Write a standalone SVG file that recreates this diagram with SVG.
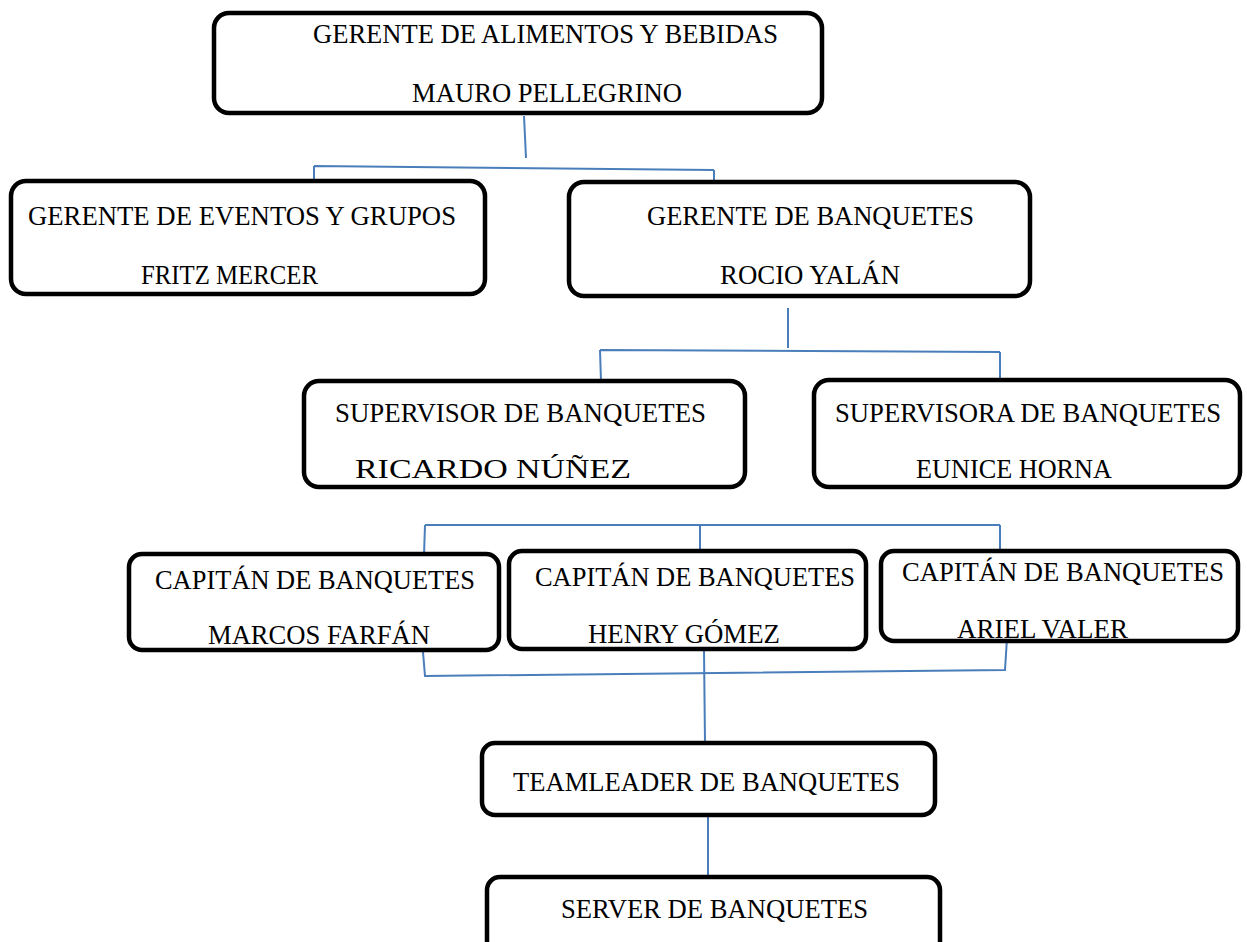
<svg xmlns="http://www.w3.org/2000/svg" width="1247" height="942" viewBox="0 0 1247 942">
<style>
.box{fill:#fff;stroke:#000;stroke-width:4.5}
.t{font-family:"Liberation Serif","Times New Roman",serif;font-size:27px;fill:#000}
.s{font-size:28px}
.c{fill:none;stroke:#4a7ebb;stroke-width:2}
</style>
<rect width="1247" height="942" fill="#fff"/>
<g id="connectors">
<path class="c" d="M524 116 L526 158"/>
<path class="c" d="M314 166 L714 170 M314 166 L314 181 M714 170 L714 184"/>
<path class="c" d="M788 308 L788 348"/>
<path class="c" d="M600 350 L1000 352 M600 350 L601 381 M1000 352 L1000 381"/>
<path class="c" d="M425 525 L1000 525 M425 525 L424 555 M700 525 L700 551 M1000 525 L1000 551"/>
<path class="c" d="M423 652 L425 676 L1005 670 L1007 638"/>
<path class="c" d="M704 650 L705 743"/>
<path class="c" d="M708 816 L708 877"/>
</g>
<g id="n1">
<rect class="box" x="214" y="13" width="608" height="100" rx="15"/>
<text class="t" x="313" y="43" textLength="465" lengthAdjust="spacingAndGlyphs">GERENTE DE ALIMENTOS Y BEBIDAS</text>
<text class="t" x="412" y="102" textLength="270" lengthAdjust="spacingAndGlyphs">MAURO PELLEGRINO</text>
</g>
<g id="n2">
<rect class="box" x="11" y="181" width="474" height="113" rx="15"/>
<text class="t" x="28" y="225" textLength="428" lengthAdjust="spacingAndGlyphs">GERENTE DE EVENTOS Y GRUPOS</text>
<text class="t" x="141" y="284" textLength="177" lengthAdjust="spacingAndGlyphs">FRITZ MERCER</text>
</g>
<g id="n3">
<rect class="box" x="569" y="182" width="461" height="114" rx="15"/>
<text class="t" x="647" y="225" textLength="327" lengthAdjust="spacingAndGlyphs">GERENTE DE BANQUETES</text>
<text class="t" x="720" y="284" textLength="180" lengthAdjust="spacingAndGlyphs">ROCIO YALÁN</text>
</g>
<g id="n4">
<rect class="box" x="304" y="381" width="441" height="106" rx="15"/>
<text class="t s" x="335" y="422" textLength="371" lengthAdjust="spacingAndGlyphs">SUPERVISOR DE BANQUETES</text>
<text class="t s" x="355" y="478" textLength="276" lengthAdjust="spacingAndGlyphs">RICARDO NÚÑEZ</text>
</g>
<g id="n5">
<rect class="box" x="814" y="380" width="426" height="107" rx="15"/>
<text class="t s" x="835" y="422" textLength="386" lengthAdjust="spacingAndGlyphs">SUPERVISORA DE BANQUETES</text>
<text class="t s" x="916" y="478" textLength="196" lengthAdjust="spacingAndGlyphs">EUNICE HORNA</text>
</g>
<g id="n6">
<rect class="box" x="129" y="554" width="370" height="96" rx="13"/>
<text class="t" x="155" y="589" textLength="320" lengthAdjust="spacingAndGlyphs">CAPITÁN DE BANQUETES</text>
<text class="t" x="208" y="644" textLength="222" lengthAdjust="spacingAndGlyphs">MARCOS FARFÁN</text>
</g>
<g id="n7">
<rect class="box" x="509" y="551" width="357" height="98" rx="13"/>
<text class="t" x="535" y="586" textLength="320" lengthAdjust="spacingAndGlyphs">CAPITÁN DE BANQUETES</text>
<text class="t" x="588" y="643" textLength="192" lengthAdjust="spacingAndGlyphs">HENRY GÓMEZ</text>
</g>
<g id="n8">
<rect class="box" x="881" y="551" width="357" height="90" rx="13"/>
<text class="t" x="902" y="581" textLength="322" lengthAdjust="spacingAndGlyphs">CAPITÁN DE BANQUETES</text>
<text class="t" x="957" y="638" textLength="171" lengthAdjust="spacingAndGlyphs">ARIEL VALER</text>
</g>
<g id="n9">
<rect class="box" x="482" y="743" width="453" height="72" rx="13"/>
<text class="t" x="513" y="791" textLength="387" lengthAdjust="spacingAndGlyphs">TEAMLEADER DE BANQUETES</text>
</g>
<g id="n10">
<rect class="box" x="487" y="877" width="453" height="80" rx="13"/>
<text class="t" x="561" y="918" textLength="307" lengthAdjust="spacingAndGlyphs">SERVER DE BANQUETES</text>
</g>
</svg>
